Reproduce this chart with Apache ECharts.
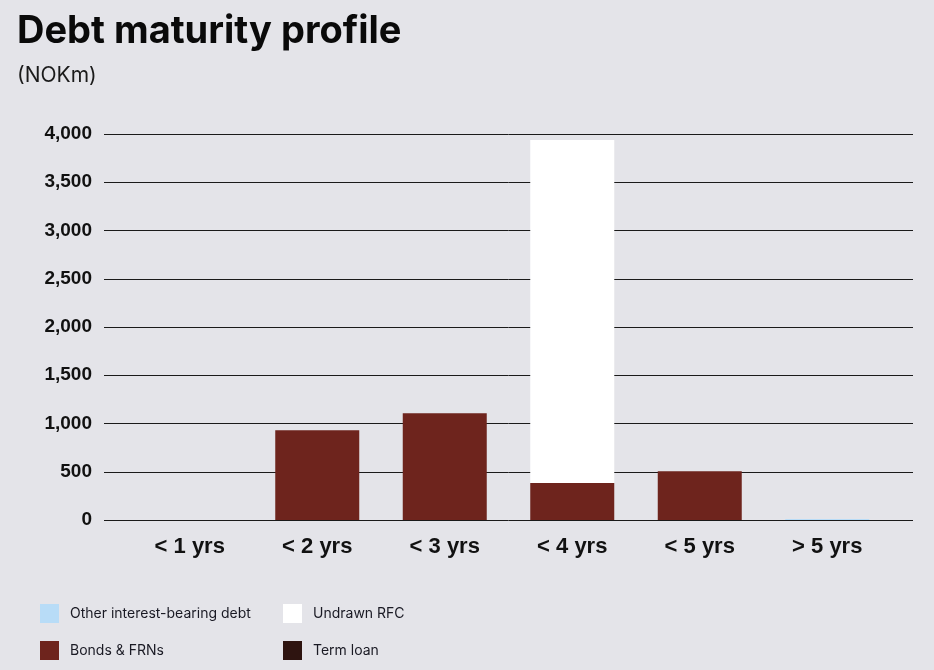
<!DOCTYPE html>
<html><head><meta charset="utf-8">
<script src="https://cdn.jsdelivr.net/npm/echarts@6/dist/echarts.min.js"></script>
<style>html,body{margin:0;padding:0;background:#e4e4e9}#c{width:934px;height:670px}</style>
</head><body><div id="c"></div>
<script>
const categories = ['< 1 yrs', '< 2 yrs', '< 3 yrs', '< 4 yrs', '< 5 yrs', '> 5 yrs'];
const otherDebt = [0, 0, 0, 0, 0, 10];
const bondsFRNs = [0, 930, 1105, 383, 505, 0];
const undrawnRFC = [0, 0, 0, 3555, 0, 0];
const termLoan = [0, 0, 0, 0, 0, 0];
const yMin = 0, yMax = 4000, yInterval = 500;

const chart = echarts.init(document.getElementById('c'));
const labelFont = "'Liberation Sans', Arial, sans-serif";
const uiFont = "Inter, 'Noto Sans', sans-serif";
const mk = (name, data, color) => ({
  name, type: 'bar', stack: 'debt', data, xAxisIndex: 1, yAxisIndex: 1,
  barWidth: 84, itemStyle: { color }, emphasis: { disabled: true }
});
const legendText = { fontFamily: uiFont, fontSize: 14, color: '#1a1a24', padding: [0, 0, 0, 6] };
chart.setOption({
  backgroundColor: '#e4e4e9',
  animation: false,
  title: [
    { text: 'Debt maturity profile', left: 12, top: 8,
      textStyle: { fontFamily: uiFont, fontWeight: 'bold', fontSize: 38, color: '#0a0a0a' } },
    { text: '(NOKm)', left: 12, top: 60,
      textStyle: { fontFamily: uiFont, fontWeight: 'normal', fontSize: 21, color: '#1a1a1a' } }
  ],
  grid: [
    { left: 104, right: 21, top: 134, bottom: 150 },
    { left: 126, right: 43, top: 134, bottom: 150 }
  ],
  xAxis: [
    { type: 'category', gridIndex: 0, data: [''], show: false },
    { type: 'category', gridIndex: 1, data: categories,
      axisLine: { show: false }, axisTick: { show: false },
      axisLabel: { margin: 16, fontFamily: labelFont, fontWeight: 'bold', fontSize: 22, color: '#111' } }
  ],
  yAxis: [
    { type: 'value', gridIndex: 0, min: yMin, max: yMax, interval: yInterval,
      axisLine: { show: false }, axisTick: { show: false },
      splitLine: { lineStyle: { color: '#1a1a1a', width: 1 } },
      axisLabel: { margin: 12, fontFamily: labelFont, fontWeight: 'bold', fontSize: 19, color: '#111',
        formatter: v => v.toLocaleString('en-US') } },
    { type: 'value', gridIndex: 1, min: yMin, max: yMax, interval: yInterval, show: false,
      splitLine: { show: false } }
  ],
  legend: [
    { left: 40, top: 604, padding: 0, orient: 'vertical', itemWidth: 19, itemHeight: 19, itemGap: 18, icon: 'rect',
      selectedMode: false, data: ['Other interest-bearing debt', 'Bonds & FRNs'], textStyle: legendText },
    { left: 283, top: 604, padding: 0, orient: 'vertical', itemWidth: 19, itemHeight: 19, itemGap: 18, icon: 'rect',
      selectedMode: false, data: ['Undrawn RFC', 'Term loan'], textStyle: legendText }
  ],
  series: [
    mk('Other interest-bearing debt', otherDebt, '#b8dcf7'),
    mk('Bonds & FRNs', bondsFRNs, '#6e241d'),
    mk('Undrawn RFC', undrawnRFC, '#ffffff'),
    mk('Term loan', termLoan, '#2e1410')
  ]
});
</script></body></html>
